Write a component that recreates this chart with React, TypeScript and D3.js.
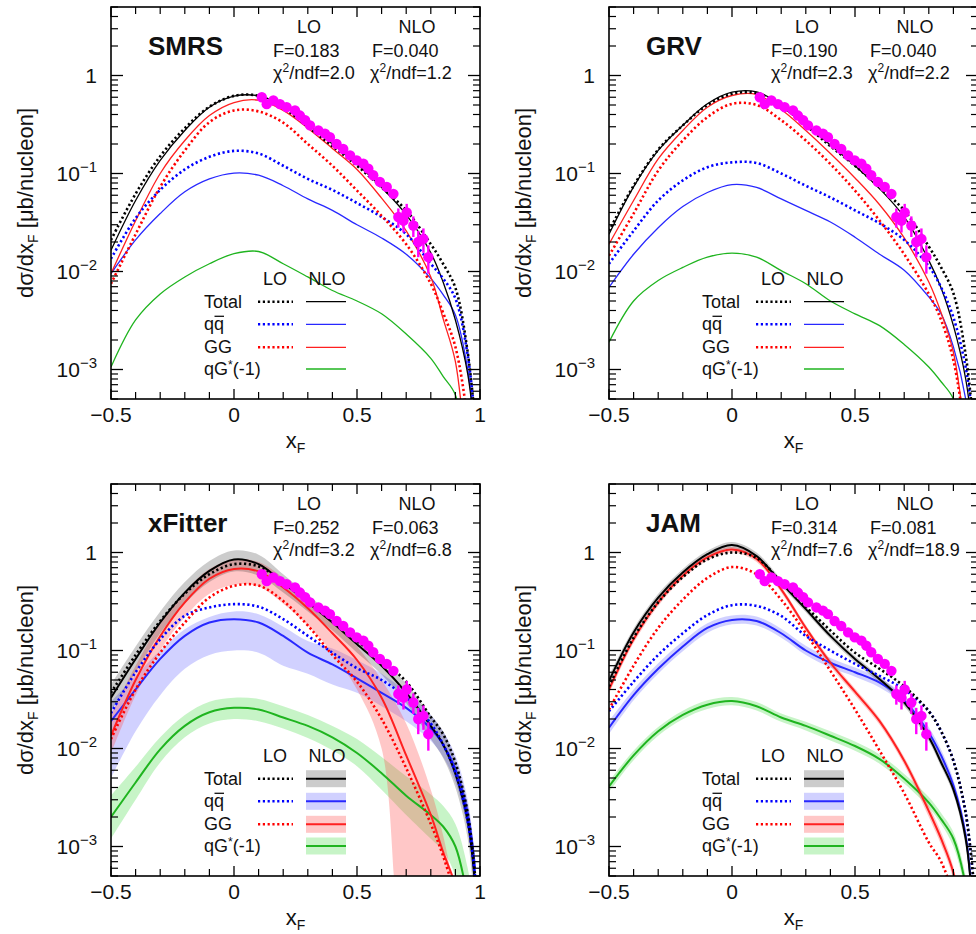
import React from "react";
import * as d3 from "d3";

const XS = [-0.5, -0.4, -0.3, -0.2, -0.1, 0, 0.1, 0.2, 0.3, 0.4, 0.5, 0.6, 0.7, 0.8, 0.85, 0.9, 0.95, 0.98];

// ---------- SMRS ----------
const SMRS_TOT_LO = [0.021, 0.062, 0.15, 0.29, 0.48, 0.62, 0.62, 0.47, 0.3, 0.19, 0.12, 0.072, 0.042, 0.019, 0.012, 0.0068, 0.0015, 0.0003];
const SMRS_TOT_NLO = [0.0165, 0.053, 0.136, 0.275, 0.475, 0.615, 0.62, 0.49, 0.32, 0.2, 0.125, 0.072, 0.038, 0.0155, 0.0078, 0.0032, 0.0009, 0.0002];
const SMRS_QQ_LO = [0.0135, 0.035, 0.068, 0.11, 0.148, 0.17, 0.16, 0.12, 0.088, 0.068, 0.05, 0.036, 0.024, 0.012, 0.0085, 0.0053, 0.0014, 0.0003];
const SMRS_QQ_NLO = [0.0095, 0.021, 0.039, 0.065, 0.088, 0.101, 0.096, 0.075, 0.055, 0.042, 0.03, 0.022, 0.015, 0.0085, 0.0058, 0.0036, 0.001, 0.0002];
const SMRS_GG_LO = [0.0075, 0.024, 0.073, 0.172, 0.334, 0.44, 0.43, 0.33, 0.2, 0.12, 0.067, 0.037, 0.019, 0.0075, 0.0038, 0.0017, 0.0003, 0.00005];
const SMRS_GG_NLO = [0.0095, 0.033, 0.1, 0.217, 0.39, 0.53, 0.56, 0.44, 0.29, 0.18, 0.11, 0.056, 0.026, 0.0088, 0.0033, 0.0012, 0.0001, 0.00003];
const SMRS_QG_NLO = [0.00106, 0.0032, 0.0059, 0.0088, 0.012, 0.0152, 0.016, 0.012, 0.0088, 0.0064, 0.005, 0.0037, 0.0023, 0.0013, 0.00085, 0.00055, 0.0001, 0.00003];

// ---------- GRV ----------
const GRV_TOT_LO = [0.026, 0.075, 0.175, 0.31, 0.5, 0.65, 0.66, 0.49, 0.31, 0.19, 0.12, 0.072, 0.042, 0.018, 0.011, 0.006, 0.0014, 0.0003];
const GRV_TOT_NLO = [0.024, 0.073, 0.172, 0.31, 0.514, 0.676, 0.68, 0.5, 0.32, 0.195, 0.12, 0.07, 0.036, 0.013, 0.0068, 0.0028, 0.0008, 0.0002];
const GRV_QQ_LO = [0.012, 0.026, 0.053, 0.085, 0.116, 0.13, 0.128, 0.1, 0.075, 0.057, 0.042, 0.031, 0.021, 0.0113, 0.0069, 0.0034, 0.00105, 0.0003];
const GRV_QQ_NLO = [0.0069, 0.015, 0.028, 0.046, 0.064, 0.077, 0.072, 0.055, 0.042, 0.032, 0.0224, 0.015, 0.0103, 0.0055, 0.0037, 0.0017, 0.0005, 0.0001];
const GRV_GG_LO = [0.0145, 0.039, 0.107, 0.217, 0.376, 0.514, 0.5, 0.35, 0.217, 0.125, 0.067, 0.033, 0.015, 0.0059, 0.0032, 0.00124, 0.0002, 0.00005];
const GRV_GG_NLO = [0.019, 0.053, 0.141, 0.275, 0.475, 0.625, 0.64, 0.45, 0.275, 0.16, 0.09, 0.048, 0.022, 0.0078, 0.0038, 0.0015, 0.0002, 0.00005];
const GRV_QG_NLO = [0.0019, 0.005, 0.0081, 0.011, 0.014, 0.0154, 0.014, 0.0102, 0.0075, 0.005, 0.0037, 0.0028, 0.0018, 0.00106, 0.00075, 0.0005, 0.0001, 0.00003];

// ---------- xFitter ----------
const XF_TOT_LO = [0.037, 0.09, 0.2, 0.38, 0.6, 0.76, 0.72, 0.5, 0.32, 0.2, 0.125, 0.08, 0.048, 0.021, 0.014, 0.0072, 0.0022, 0.0005];
const XF_TOT_NLO = [0.033, 0.082, 0.193, 0.39, 0.65, 0.85, 0.76, 0.49, 0.31, 0.193, 0.116, 0.07, 0.037, 0.017, 0.011, 0.0055, 0.0018, 0.0004];
const XF_TOT_HI = [0.045, 0.11, 0.25, 0.5, 0.82, 1.05, 0.95, 0.6, 0.37, 0.23, 0.14, 0.085, 0.046, 0.022, 0.015, 0.0075, 0.0026, 0.0007];
const XF_TOT_LOW = [0.024, 0.06, 0.15, 0.3, 0.5, 0.64, 0.58, 0.39, 0.25, 0.16, 0.095, 0.057, 0.029, 0.0125, 0.008, 0.004, 0.0012, 0.0002];
const XF_QQ_LO = [0.023, 0.06, 0.13, 0.226, 0.275, 0.297, 0.28, 0.209, 0.141, 0.095, 0.066, 0.05, 0.033, 0.018, 0.011, 0.0057, 0.0018, 0.0005];
const XF_QQ_NLO = [0.019, 0.04, 0.082, 0.141, 0.193, 0.209, 0.193, 0.141, 0.095, 0.072, 0.052, 0.037, 0.026, 0.016, 0.011, 0.0062, 0.0022, 0.0006];
const XF_QQ_HI = [0.03, 0.055, 0.1, 0.165, 0.22, 0.25, 0.235, 0.175, 0.125, 0.105, 0.08, 0.058, 0.038, 0.022, 0.015, 0.0085, 0.003, 0.0008];
const XF_QQ_LOW = [0.005, 0.015, 0.035, 0.065, 0.09, 0.1, 0.095, 0.07, 0.058, 0.045, 0.037, 0.027, 0.019, 0.012, 0.0082, 0.0045, 0.0015, 0.0004];
const XF_GG_LO = [0.0125, 0.04, 0.095, 0.193, 0.347, 0.457, 0.46, 0.32, 0.18, 0.09, 0.048, 0.02, 0.0063, 0.0017, 0.0008, 0.0003, 0.00005, 0.00002];
const XF_GG_NLO = [0.0135, 0.05, 0.14, 0.31, 0.54, 0.68, 0.64, 0.44, 0.27, 0.15, 0.08, 0.033, 0.0085, 0.0021, 0.00088, 0.0004, 0.0001, 0.00003];
const XF_GG_HI = [0.022, 0.07, 0.19, 0.4, 0.68, 0.85, 0.8, 0.55, 0.33, 0.19, 0.11, 0.05, 0.018, 0.0038, 0.0013, 0.0003, 0.00005, 0.00002];
const XF_GG_LOW = [0.009, 0.035, 0.1, 0.22, 0.38, 0.47, 0.45, 0.3, 0.18, 0.095, 0.04, 0.01, 0.00005, 0.00002, 0.00001, 0.00001, 0.00001, 0.00001];
const XF_QG_NLO = [0.002, 0.0045, 0.0098, 0.017, 0.0234, 0.026, 0.025, 0.0207, 0.017, 0.013, 0.009, 0.0056, 0.0033, 0.0021, 0.0016, 0.001, 0.0003, 0.0001];
const XF_QG_HI = [0.0033, 0.0065, 0.013, 0.022, 0.03, 0.033, 0.032, 0.027, 0.022, 0.017, 0.0125, 0.0082, 0.0052, 0.0034, 0.0026, 0.0017, 0.0006, 0.0002];
const XF_QG_LOW = [0.0012, 0.003, 0.0072, 0.013, 0.018, 0.02, 0.019, 0.016, 0.0128, 0.0096, 0.0066, 0.0038, 0.0021, 0.0012, 0.0009, 0.0005, 0.00012, 0.00004];

// ---------- JAM ----------
const JAM_TOT_LO = [0.043, 0.135, 0.31, 0.56, 0.85, 1.0, 0.88, 0.5, 0.28, 0.16, 0.095, 0.065, 0.043, 0.024, 0.015, 0.0075, 0.0022, 0.0005];
const JAM_TOT_NLO = [0.049, 0.153, 0.347, 0.625, 0.96, 1.19, 0.92, 0.49, 0.264, 0.141, 0.082, 0.051, 0.0295, 0.013, 0.0072, 0.0038, 0.0012, 0.0002];
const JAM_TOT_HI = [0.055, 0.168, 0.38, 0.68, 1.04, 1.28, 1.0, 0.53, 0.285, 0.152, 0.088, 0.055, 0.032, 0.0142, 0.008, 0.0042, 0.0014, 0.00025];
const JAM_TOT_LOW = [0.044, 0.14, 0.32, 0.575, 0.89, 1.1, 0.85, 0.455, 0.245, 0.131, 0.076, 0.047, 0.027, 0.0118, 0.0065, 0.0034, 0.001, 0.00015];
const JAM_QQ_LO = [0.024, 0.048, 0.09, 0.15, 0.23, 0.29, 0.285, 0.225, 0.141, 0.1, 0.073, 0.055, 0.04, 0.024, 0.015, 0.0075, 0.0022, 0.0005];
const JAM_QQ_NLO = [0.0163, 0.035, 0.065, 0.11, 0.17, 0.205, 0.2, 0.15, 0.1, 0.075, 0.06, 0.047, 0.031, 0.0145, 0.0085, 0.0042, 0.0013, 0.0002];
const JAM_QQ_HI = [0.019, 0.04, 0.074, 0.124, 0.19, 0.228, 0.222, 0.167, 0.112, 0.084, 0.067, 0.052, 0.035, 0.0165, 0.0097, 0.0048, 0.0015, 0.00025];
const JAM_QQ_LOW = [0.014, 0.031, 0.058, 0.098, 0.152, 0.185, 0.18, 0.135, 0.09, 0.067, 0.054, 0.042, 0.028, 0.0128, 0.0075, 0.0037, 0.0011, 0.00015];
const JAM_GG_LO = [0.025, 0.07, 0.17, 0.33, 0.55, 0.71, 0.6, 0.33, 0.15, 0.062, 0.025, 0.0095, 0.0035, 0.0011, 0.0007, 0.0003, 0.00005, 0.00002];
const JAM_GG_NLO = [0.04, 0.13, 0.31, 0.58, 0.89, 1.07, 0.86, 0.42, 0.17, 0.075, 0.038, 0.019, 0.0075, 0.0023, 0.0012, 0.00054, 0.0001, 0.00003];
const JAM_GG_HI = [0.044, 0.142, 0.335, 0.625, 0.95, 1.14, 0.92, 0.45, 0.182, 0.081, 0.041, 0.0205, 0.0082, 0.0026, 0.0014, 0.00062, 0.00012, 0.00004];
const JAM_GG_LOW = [0.036, 0.119, 0.285, 0.54, 0.83, 1.0, 0.8, 0.39, 0.158, 0.069, 0.035, 0.0175, 0.0068, 0.002, 0.00104, 0.00046, 0.00008, 0.00002];
const JAM_QG_NLO = [0.0041, 0.0085, 0.015, 0.022, 0.028, 0.0305, 0.027, 0.0207, 0.017, 0.0135, 0.0106, 0.0078, 0.0049, 0.0028, 0.0019, 0.0012, 0.0004, 0.0001];
const JAM_QG_HI = [0.0046, 0.0095, 0.0166, 0.0243, 0.031, 0.0336, 0.0298, 0.0228, 0.0188, 0.015, 0.0118, 0.0087, 0.0055, 0.0032, 0.0022, 0.0014, 0.0005, 0.00012];
const JAM_QG_LOW = [0.0036, 0.0076, 0.0135, 0.0199, 0.0253, 0.0276, 0.0244, 0.0187, 0.0153, 0.0121, 0.0095, 0.007, 0.0044, 0.0025, 0.0017, 0.001, 0.00033, 0.00008];

// ---------- measured data (same in all panels) ----------
const DATA_X = [0.113, 0.133, 0.16, 0.187, 0.214, 0.248, 0.268, 0.289, 0.309, 0.343, 0.37, 0.39, 0.417, 0.444, 0.472, 0.499, 0.526, 0.546, 0.566, 0.593, 0.621, 0.648, 0.668, 0.689, 0.702, 0.729, 0.749, 0.77, 0.79];
const DATA_Y = [0.6, 0.51, 0.556, 0.51, 0.475, 0.44, 0.39, 0.35, 0.31, 0.275, 0.255, 0.235, 0.2, 0.178, 0.153, 0.136, 0.126, 0.112, 0.096, 0.082, 0.073, 0.062, 0.036, 0.033, 0.04, 0.0295, 0.02, 0.0215, 0.014];
const DATA_ERR = [0.02, 0.018, 0.018, 0.017, 0.016, 0.015, 0.014, 0.012, 0.011, 0.01, 0.009, 0.009, 0.008, 0.007, 0.006, 0.006, 0.005, 0.005, 0.004, 0.004, 0.004, 0.003, 0.008, 0.008, 0.009, 0.007, 0.006, 0.006, 0.0045];

const PANEL_NAMES = ["SMRS", "GRV", "xFitter", "JAM"];
const F_LO = ["0.183", "0.190", "0.252", "0.314"];
const F_NLO = ["0.040", "0.040", "0.063", "0.081"];
const CHI_LO = ["2.0", "2.3", "3.2", "7.6"];
const CHI_NLO = ["1.2", "2.2", "6.8", "18.9"];
const LEGEND_ROWS = ["Total", "qq", "GG", "qG*(-1)"];
const X_MAJOR = [-0.5, 0, 0.5, 1];
const X_TICK_LABELS = ["\u22120.5", "0", "0.5", "1"];
const Y_MAJOR = [1e-3, 1e-2, 1e-1, 1];
const Y_EXP = ["\u22123", "\u22122", "\u22121", ""];

const CURVES = [
  { totLO: SMRS_TOT_LO, totNLO: SMRS_TOT_NLO, qqLO: SMRS_QQ_LO, qqNLO: SMRS_QQ_NLO, ggLO: SMRS_GG_LO, ggNLO: SMRS_GG_NLO, qgNLO: SMRS_QG_NLO },
  { totLO: GRV_TOT_LO, totNLO: GRV_TOT_NLO, qqLO: GRV_QQ_LO, qqNLO: GRV_QQ_NLO, ggLO: GRV_GG_LO, ggNLO: GRV_GG_NLO, qgNLO: GRV_QG_NLO },
  { totLO: XF_TOT_LO, totNLO: XF_TOT_NLO, qqLO: XF_QQ_LO, qqNLO: XF_QQ_NLO, ggLO: XF_GG_LO, ggNLO: XF_GG_NLO, qgNLO: XF_QG_NLO },
  { totLO: JAM_TOT_LO, totNLO: JAM_TOT_NLO, qqLO: JAM_QQ_LO, qqNLO: JAM_QQ_NLO, ggLO: JAM_GG_LO, ggNLO: JAM_GG_NLO, qgNLO: JAM_QG_NLO },
];
const BANDS: any[] = [
  null,
  null,
  { tot: [XF_TOT_LOW, XF_TOT_HI], qq: [XF_QQ_LOW, XF_QQ_HI], gg: [XF_GG_LOW, XF_GG_HI], qg: [XF_QG_LOW, XF_QG_HI] },
  { tot: [JAM_TOT_LOW, JAM_TOT_HI], qq: [JAM_QQ_LOW, JAM_QQ_HI], gg: [JAM_GG_LOW, JAM_GG_HI], qg: [JAM_QG_LOW, JAM_QG_HI] },
];

const W = 369;
const H = 392;
const POS = [[111, 7], [609, 7], [111, 484], [609, 484]];
const FONT = "'Liberation Sans', Arial, Helvetica, sans-serif";

const COL = {
  tot: "#000000",
  qqLO: "#0000ff",
  qqNLO: "#2828ff",
  ggLO: "#ff0000",
  ggNLO: "#ff2020",
  qg: "#1fb41f",
};
const BAND_COL = {
  tot: "rgba(0,0,0,0.2)",
  qq: "rgba(70,70,255,0.25)",
  gg: "rgba(255,70,70,0.3)",
  qg: "rgba(70,220,70,0.3)",
};

function Panel({ idx }: { idx: number }) {
  const [ox, oy] = POS[idx];
  const c = CURVES[idx];
  const b = BANDS[idx];
  const bottom = idx >= 2;
  const rightCol = idx % 2 === 1;
  const x = d3.scaleLinear().domain([-0.5, 1]).range([0, W]);
  const y = d3.scaleLog().domain([5e-4, 5]).range([H, 0]);
  const sy = (v: number) => y(Math.max(v, 1e-7));
  const curve = d3.curveCatmullRom.alpha(0.5);
  const line = d3
    .line<[number, number]>()
    .x((d) => x(d[0]))
    .y((d) => sy(d[1]))
    .curve(curve);
  const area = d3
    .area<[number, number, number]>()
    .x((d) => x(d[0]))
    .y0((d) => sy(d[1]))
    .y1((d) => sy(d[2]))
    .curve(curve);
  const pts = (arr: number[]) => XS.map((v, i) => [v, arr[i]] as [number, number]);
  const bpts = (lo: number[], hi: number[]) => XS.map((v, i) => [v, lo[i], hi[i]] as [number, number, number]);
  const solidW = bottom ? 2 : 1.3;
  const dotW = 2.6;
  const dash = "2.2,2.6";
  const clipId = `clip${idx}`;

  const xMinor = d3.range(-0.4, 0.95, 0.1).map((v) => Math.round(v * 10) / 10).filter((v) => !X_MAJOR.includes(v));
  const yMinor: number[] = [];
  [-4, -3, -2, -1, 0].forEach((e) => {
    for (let k = 2; k <= 9; k++) {
      const v = k * Math.pow(10, e);
      if (v >= 5e-4 && v <= 5) yMinor.push(v);
    }
  });

  const legX = 93;
  const legY = [294.7, 317.3, 340.3, 362];
  const rowKeys = ["tot", "qq", "gg", "qg"];
  const loCols = [COL.tot, COL.qqLO, COL.ggLO, null];
  const nloCols = [COL.tot, COL.qqNLO, COL.ggNLO, COL.qg];

  return (
    <g transform={`translate(${ox},${oy})`}>
      <defs>
        <clipPath id={clipId}>
          <rect x={0} y={0} width={W} height={H} />
        </clipPath>
      </defs>
      <g clipPath={`url(#${clipId})`}>
        {b &&
          (["qg", "qq", "gg", "tot"] as const).map((k) => (
            <path key={k} d={area(bpts(b[k][0], b[k][1])) || ""} fill={(BAND_COL as any)[k]} stroke="none" />
          ))}
        <path d={line(pts(c.qgNLO)) || ""} fill="none" stroke={COL.qg} strokeWidth={solidW} />
        <path d={line(pts(c.qqNLO)) || ""} fill="none" stroke={COL.qqNLO} strokeWidth={solidW} />
        <path d={line(pts(c.ggNLO)) || ""} fill="none" stroke={COL.ggNLO} strokeWidth={solidW} />
        <path d={line(pts(c.totNLO)) || ""} fill="none" stroke={COL.tot} strokeWidth={solidW} />
        <path d={line(pts(c.qqLO)) || ""} fill="none" stroke={COL.qqLO} strokeWidth={dotW} strokeDasharray={dash} />
        <path d={line(pts(c.ggLO)) || ""} fill="none" stroke={COL.ggLO} strokeWidth={dotW} strokeDasharray={dash} />
        <path d={line(pts(c.totLO)) || ""} fill="none" stroke={COL.tot} strokeWidth={dotW} strokeDasharray={dash} />
        {DATA_X.map((dx, i) => (
          <g key={i}>
            <line
              x1={x(dx)}
              x2={x(dx)}
              y1={y(DATA_Y[i] + DATA_ERR[i])}
              y2={y(Math.max(DATA_Y[i] - DATA_ERR[i], 1e-6))}
              stroke="#ff00ff"
              strokeWidth={2.4}
            />
            <circle cx={x(dx)} cy={y(DATA_Y[i])} r={5.2} fill="#ff00ff" />
          </g>
        ))}
      </g>

      {/* frame */}
      <rect x={0} y={0} width={W} height={H} fill="none" stroke="#000" strokeWidth={1.6} />
      {/* x ticks */}
      {X_MAJOR.map((v) => (
        <g key={"xm" + v}>
          <line x1={x(v)} x2={x(v)} y1={H} y2={H - 10} stroke="#000" strokeWidth={1.3} />
          <line x1={x(v)} x2={x(v)} y1={0} y2={10} stroke="#000" strokeWidth={1.3} />
        </g>
      ))}
      {xMinor.map((v) => (
        <g key={"xn" + v}>
          <line x1={x(v)} x2={x(v)} y1={H} y2={H - 7} stroke="#000" strokeWidth={1.2} />
          <line x1={x(v)} x2={x(v)} y1={0} y2={7} stroke="#000" strokeWidth={1.2} />
        </g>
      ))}
      {/* y ticks */}
      {Y_MAJOR.map((v) => (
        <g key={"ym" + v}>
          <line x1={0} x2={12} y1={y(v)} y2={y(v)} stroke="#000" strokeWidth={1.3} />
          <line x1={W} x2={W - 12} y1={y(v)} y2={y(v)} stroke="#000" strokeWidth={1.3} />
        </g>
      ))}
      {yMinor.map((v) => (
        <g key={"yn" + v}>
          <line x1={0} x2={7} y1={y(v)} y2={y(v)} stroke="#000" strokeWidth={1.2} />
          <line x1={W} x2={W - 7} y1={y(v)} y2={y(v)} stroke="#000" strokeWidth={1.2} />
        </g>
      ))}

      {/* tick labels (the right column's "1" lies beyond the picture edge) */}
      {X_MAJOR.map((v, i) =>
        rightCol && v === 1 ? null : (
          <text key={"xl" + v} x={x(v)} y={H + 23} textAnchor="middle" fontSize={21} fill="#111">
            {X_TICK_LABELS[i]}
          </text>
        )
      )}
      {Y_MAJOR.map((v, i) =>
        Y_EXP[i] === "" ? (
          <text key={"yl" + v} x={-14} y={y(v) + 8} textAnchor="end" fontSize={21} fill="#111">
            1
          </text>
        ) : (
          <text key={"yl" + v} x={-14} y={y(v) + 8} textAnchor="end" fontSize={21} fill="#111">
            10
            <tspan fontSize={15} dy={-9}>
              {Y_EXP[i]}
            </tspan>
          </text>
        )
      )}

      {/* axis labels */}
      <text x={W / 2} y={H + 49} textAnchor="middle" fontSize={22} fill="#111">
        x<tspan fontSize={14} dy={5}>F</tspan>
      </text>
      <text transform={`translate(-78,${H / 2}) rotate(-90)`} textAnchor="middle" fontSize={22} fill="#111">
        dσ/dx<tspan fontSize={14} dy={5}>F</tspan>
        <tspan dy={-5}>{" [μb/nucleon]"}</tspan>
      </text>

      {/* header */}
      <text x={37} y={48} fontSize={26} fontWeight="bold" fill="#111">
        {PANEL_NAMES[idx]}
      </text>
      <text x={198} y={26} fontSize={18} textAnchor="middle" fill="#111">LO</text>
      <text x={306} y={26} fontSize={18} textAnchor="middle" fill="#111">NLO</text>
      <text x={162} y={50} fontSize={18} fill="#111">F={F_LO[idx]}</text>
      <text x={261} y={50} fontSize={18} fill="#111">F={F_NLO[idx]}</text>
      <text x={162} y={72} fontSize={18} fill="#111">
        χ<tspan fontSize={12} dy={-7}>2</tspan>
        <tspan dy={7}>/ndf={CHI_LO[idx]}</tspan>
      </text>
      <text x={259} y={72} fontSize={18} fill="#111">
        χ<tspan fontSize={12} dy={-7}>2</tspan>
        <tspan dy={7}>/ndf={CHI_NLO[idx]}</tspan>
      </text>

      {/* legend */}
      <text x={164} y={278} fontSize={18} textAnchor="middle" fill="#111">LO</text>
      <text x={216} y={278} fontSize={18} textAnchor="middle" fill="#111">NLO</text>
      {LEGEND_ROWS.map((lab, r) => (
        <g key={lab}>
          {r === 1 ? (
            <g>
              <text x={legX} y={legY[r] + 6} fontSize={18} fill="#111">{lab}</text>
              <line x1={legX + 10.5} x2={legX + 20} y1={legY[r] - 8} y2={legY[r] - 8} stroke="#111" strokeWidth={1.3} />
            </g>
          ) : r === 3 ? (
            <text x={legX} y={legY[r] + 6} fontSize={18} fill="#111">
              qG<tspan fontSize={12} dy={-6}>*</tspan>
              <tspan dy={6}>(-1)</tspan>
            </text>
          ) : (
            <text x={legX} y={legY[r] + 6} fontSize={18} fill="#111">{lab}</text>
          )}
          {loCols[r] && (
            <line x1={147} x2={182} y1={legY[r]} y2={legY[r]} stroke={loCols[r] as string} strokeWidth={dotW} strokeDasharray={dash} />
          )}
          {b && <rect x={195} y={legY[r] - 8.5} width={40} height={17} fill={(BAND_COL as any)[rowKeys[r]]} />}
          <line x1={195} x2={235} y1={legY[r]} y2={legY[r]} stroke={nloCols[r]} strokeWidth={solidW} />
        </g>
      ))}
    </g>
  );
}

export default function App() {
  return (
    <svg
      width={976}
      height={934}
      style={{ position: "absolute", left: 0, top: 0, background: "#fff" }}
      fontFamily={FONT}
    >
      {[0, 1, 2, 3].map((i) => (
        <Panel key={i} idx={i} />
      ))}
    </svg>
  );
}
